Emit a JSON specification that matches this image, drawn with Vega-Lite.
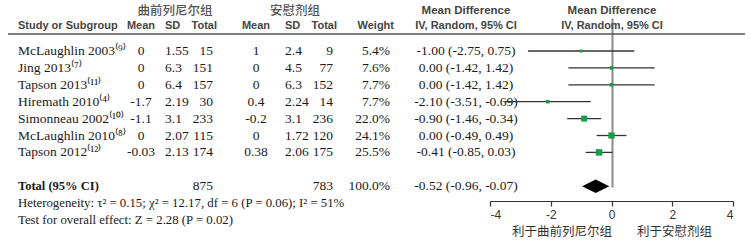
{
  "$schema": "https://vega.github.io/schema/vega-lite/v6.json",
  "width": 750,
  "height": 164,
  "autosize": {"type": "none"},
  "padding": {"top": 37, "bottom": 41, "left": 0, "right": 0},
  "config": {
    "view": {"stroke": null},
    "text": {"font": "Liberation Serif", "fontSize": 13.5, "color": "#1a1a1a", "baseline": "middle"}
  },
  "datasets": {
    "studies": [
      {"study": "McLaughlin 2003⁽⁹⁾", "m1": "0", "sd1": "1.55", "n1": 15, "m2": "1", "sd2": "2.4", "n2": 9, "w": 0.054, "ci": "-1.00 (-2.75, 0.75)", "md": -1.0, "lo": -2.75, "hi": 0.75},
      {"study": "Jing 2013⁽⁷⁾", "m1": "0", "sd1": "6.3", "n1": 151, "m2": "0", "sd2": "4.5", "n2": 77, "w": 0.076, "ci": "0.00 (-1.42, 1.42)", "md": 0.0, "lo": -1.42, "hi": 1.42},
      {"study": "Tapson 2013⁽¹¹⁾", "m1": "0", "sd1": "6.4", "n1": 157, "m2": "0", "sd2": "6.3", "n2": 152, "w": 0.077, "ci": "0.00 (-1.42, 1.42)", "md": 0.0, "lo": -1.42, "hi": 1.42},
      {"study": "Hiremath 2010⁽⁴⁾", "m1": "-1.7", "sd1": "2.19", "n1": 30, "m2": "0.4", "sd2": "2.24", "n2": 14, "w": 0.077, "ci": "-2.10 (-3.51, -0.69)", "md": -2.1, "lo": -3.51, "hi": -0.69},
      {"study": "Simonneau 2002⁽¹⁰⁾", "m1": "-1.1", "sd1": "3.1", "n1": 233, "m2": "-0.2", "sd2": "3.1", "n2": 236, "w": 0.22, "ci": "-0.90 (-1.46, -0.34)", "md": -0.9, "lo": -1.46, "hi": -0.34},
      {"study": "McLaughlin 2010⁽⁸⁾", "m1": "0", "sd1": "2.07", "n1": 115, "m2": "0", "sd2": "1.72", "n2": 120, "w": 0.241, "ci": "0.00 (-0.49, 0.49)", "md": 0.0, "lo": -0.49, "hi": 0.49},
      {"study": "Tapson 2012⁽¹²⁾", "m1": "-0.03", "sd1": "2.13", "n1": 174, "m2": "0.38", "sd2": "2.06", "n2": 175, "w": 0.255, "ci": "-0.41 (-0.85, 0.03)", "md": -0.41, "lo": -0.85, "hi": 0.03}
    ],
    "total": [
      {"study": "Total (95% CI)", "n1": 875, "n2": 783, "w": 1.0, "ci": "-0.52 (-0.96, -0.07)", "md": -0.52, "lo": -0.96, "hi": -0.07}
    ],
    "notes": [
      {"study": "Heterogeneity: τ² = 0.15; χ² = 12.17, df = 6 (P = 0.06); I² = 51%"},
      {"study": "Test for overall effect: Z = 2.28 (P = 0.02)"}
    ],
    "heads": [
      {"h": "Study or Subgroup", "c": 0, "r": "h2"},
      {"h": "Mean", "c": 1, "r": "h2"},
      {"h": "SD", "c": 2, "r": "h2"},
      {"h": "Total", "c": 3, "r": "h2"},
      {"h": "Mean", "c": 4, "r": "h2"},
      {"h": "SD", "c": 5, "r": "h2"},
      {"h": "Total", "c": 6, "r": "h2"},
      {"h": "Weight", "c": 7, "r": "h2"},
      {"h": "IV, Random, 95% CI", "c": 8, "r": "h2"},
      {"h": "IV, Random, 95% CI", "c": 9, "r": "h2"},
      {"h": "曲前列尼尔组", "c": 2, "r": "h1"},
      {"h": "安慰剂组", "c": 5, "r": "h1"},
      {"h": "Mean Difference", "c": 8, "r": "h1"},
      {"h": "Mean Difference", "c": 9, "r": "h1"}
    ]
  },
  "layer": [
    {
      "data": {"name": "heads"},
      "encoding": {
        "x": {"field": "c", "type": "quantitative", "axis": null,
              "scale": {"type": "linear", "domain": [-1, 0, 1, 2, 3, 4, 5, 6, 7, 8, 9, 10], "range": [8, 18, 141, 165, 213, 256, 285, 333, 390, 466, 612, 745], "nice": false, "zero": false}},
        "y": {"field": "r", "type": "nominal", "axis": null,
              "scale": {"type": "point", "domain": ["h1", "h2"], "range": [-26, -11], "padding": 0}}
      },
      "layer": [
        {
          "transform": [{"filter": {"field": "r", "equal": "h2"}}, {"filter": {"field": "c", "oneOf": [0, 2, 5]}}],
          "mark": {"type": "text", "align": "left", "font": "Liberation Sans", "fontWeight": "bold", "fontSize": 11, "color": "#444"},
          "encoding": {"text": {"field": "h"}}
        },
        {
          "transform": [{"filter": {"field": "r", "equal": "h2"}}, {"filter": {"field": "c", "oneOf": [1, 4, 8, 9]}}],
          "mark": {"type": "text", "align": "center", "font": "Liberation Sans", "fontWeight": "bold", "fontSize": 11, "color": "#444"},
          "encoding": {"text": {"field": "h"}}
        },
        {
          "transform": [{"filter": {"field": "r", "equal": "h2"}}, {"filter": {"field": "c", "oneOf": [3, 6, 7]}}],
          "mark": {"type": "text", "align": "right", "dx": 4, "font": "Liberation Sans", "fontWeight": "bold", "fontSize": 11, "color": "#444"},
          "encoding": {"text": {"field": "h"}}
        },
        {
          "transform": [{"filter": {"field": "r", "equal": "h1"}}, {"filter": {"field": "c", "oneOf": [2, 5]}}],
          "mark": {"type": "text", "align": "center", "dx": 10, "font": "Noto Sans CJK SC", "fontWeight": 500, "fontSize": 12.5, "color": "#555"},
          "encoding": {"text": {"field": "h"}}
        },
        {
          "transform": [{"filter": {"field": "r", "equal": "h1"}}, {"filter": {"field": "c", "oneOf": [8, 9]}}],
          "mark": {"type": "text", "align": "center", "font": "Liberation Sans", "fontWeight": "bold", "fontSize": 11.5, "color": "#444"},
          "encoding": {"text": {"field": "h"}}
        },
        {
          "transform": [{"filter": {"field": "c", "equal": 0}}, {"filter": {"field": "r", "equal": "h2"}}],
          "mark": {"type": "rule", "yOffset": 8, "color": "#555", "strokeWidth": 1.5},
          "encoding": {
            "x": {"datum": -1, "type": "quantitative"},
            "x2": {"datum": 10}
          }
        }
      ]
    },
    {
      "encoding": {
        "y": {"field": "study", "type": "nominal", "axis": null,
              "scale": {"type": "point", "range": [14, 183], "padding": 0,
                        "domain": ["McLaughlin 2003⁽⁹⁾", "Jing 2013⁽⁷⁾", "Tapson 2013⁽¹¹⁾", "Hiremath 2010⁽⁴⁾", "Simonneau 2002⁽¹⁰⁾", "McLaughlin 2010⁽⁸⁾", "Tapson 2012⁽¹²⁾", " ", "Total (95% CI)", "Heterogeneity: τ² = 0.15; χ² = 12.17, df = 6 (P = 0.06); I² = 51%", "Test for overall effect: Z = 2.28 (P = 0.02)"]}}
      },
      "layer": [
        {"data": {"name": "studies"}, "mark": {"type": "text", "align": "left"},
         "encoding": {"x": {"datum": 0, "type": "quantitative", "axis": null,
                            "scale": {"type": "linear", "domain": [-1, 0, 1, 2, 3, 4, 5, 6, 7, 8, 9, 10], "range": [8, 18, 141, 165, 213, 256, 285, 333, 390, 466, 612, 745], "nice": false, "zero": false}},
                      "text": {"field": "study"}}},
        {"data": {"name": "studies"}, "mark": {"type": "text", "align": "center"},
         "encoding": {"x": {"datum": 1, "type": "quantitative", "axis": null}, "text": {"field": "m1", "type": "nominal"}}},
        {"data": {"name": "studies"}, "mark": {"type": "text", "align": "left"},
         "encoding": {"x": {"datum": 2, "type": "quantitative", "axis": null}, "text": {"field": "sd1", "type": "nominal"}}},
        {"data": {"name": "studies"}, "mark": {"type": "text", "align": "right"},
         "encoding": {"x": {"datum": 3, "type": "quantitative", "axis": null}, "text": {"field": "n1", "type": "nominal"}}},
        {"data": {"name": "studies"}, "mark": {"type": "text", "align": "center"},
         "encoding": {"x": {"datum": 4, "type": "quantitative", "axis": null}, "text": {"field": "m2", "type": "nominal"}}},
        {"data": {"name": "studies"}, "mark": {"type": "text", "align": "left"},
         "encoding": {"x": {"datum": 5, "type": "quantitative", "axis": null}, "text": {"field": "sd2", "type": "nominal"}}},
        {"data": {"name": "studies"}, "mark": {"type": "text", "align": "right"},
         "encoding": {"x": {"datum": 6, "type": "quantitative", "axis": null}, "text": {"field": "n2", "type": "nominal"}}},
        {"data": {"name": "studies"}, "mark": {"type": "text", "align": "right"},
         "encoding": {"x": {"datum": 7, "type": "quantitative", "axis": null}, "text": {"field": "w", "type": "quantitative", "format": ".1%"}}},
        {"data": {"name": "studies"}, "mark": {"type": "text", "align": "center"},
         "encoding": {"x": {"datum": 8, "type": "quantitative", "axis": null}, "text": {"field": "ci", "type": "nominal"}}},
        {"data": {"name": "total"}, "mark": {"type": "text", "align": "left", "fontWeight": "bold", "fontSize": 12.5},
         "encoding": {"x": {"datum": 0, "type": "quantitative", "axis": null}, "text": {"field": "study"}}},
        {"data": {"name": "total"}, "mark": {"type": "text", "align": "right"},
         "encoding": {"x": {"datum": 3, "type": "quantitative", "axis": null}, "text": {"field": "n1", "type": "nominal"}}},
        {"data": {"name": "total"}, "mark": {"type": "text", "align": "right"},
         "encoding": {"x": {"datum": 6, "type": "quantitative", "axis": null}, "text": {"field": "n2", "type": "nominal"}}},
        {"data": {"name": "total"}, "mark": {"type": "text", "align": "right"},
         "encoding": {"x": {"datum": 7, "type": "quantitative", "axis": null}, "text": {"field": "w", "type": "quantitative", "format": ".1%"}}},
        {"data": {"name": "total"}, "mark": {"type": "text", "align": "center"},
         "encoding": {"x": {"datum": 8, "type": "quantitative", "axis": null}, "text": {"field": "ci", "type": "nominal"}}},
        {"data": {"name": "notes"}, "mark": {"type": "text", "align": "left", "fontSize": 12.8},
         "encoding": {"x": {"datum": 0, "type": "quantitative", "axis": null}, "text": {"field": "study"}}}
      ]
    },
    {
      "data": {"name": "studies"},
      "encoding": {
        "x": {"field": "lo", "type": "quantitative", "axis": null,
              "scale": {"type": "linear", "domain": [-4, 4], "range": [490, 733], "nice": false, "zero": false}},
        "y": {"field": "study", "type": "nominal", "axis": null,
              "scale": {"type": "point", "range": [14, 183], "padding": 0,
                        "domain": ["McLaughlin 2003⁽⁹⁾", "Jing 2013⁽⁷⁾", "Tapson 2013⁽¹¹⁾", "Hiremath 2010⁽⁴⁾", "Simonneau 2002⁽¹⁰⁾", "McLaughlin 2010⁽⁸⁾", "Tapson 2012⁽¹²⁾", " ", "Total (95% CI)", "Heterogeneity: τ² = 0.15; χ² = 12.17, df = 6 (P = 0.06); I² = 51%", "Test for overall effect: Z = 2.28 (P = 0.02)"]}}
      },
      "layer": [
        {
          "mark": {"type": "rule", "color": "#333", "strokeWidth": 1.3},
          "encoding": {"x2": {"field": "hi"}}
        },
        {
          "mark": {"type": "point", "shape": "square", "filled": true, "opacity": 1, "color": "#179c4a"},
          "encoding": {
            "x": {"field": "md", "type": "quantitative", "axis": null},
            "size": {"field": "w", "type": "quantitative", "legend": null, "scale": {"domain": [0, 0.255], "range": [0, 42]}}
          }
        }
      ]
    },
    {
      "data": {"name": "total"},
      "mark": {"type": "point", "shape": "M-1,0L0,-0.5L1,0L0,0.5Z", "filled": true, "opacity": 1, "color": "#000", "size": 740},
      "encoding": {
        "x": {"field": "md", "type": "quantitative",
              "scale": {"type": "linear", "domain": [-4, 4], "range": [490, 733], "nice": false, "zero": false},
              "axis": {"values": [-4, -2, 0, 2, 4], "labelExpr": "toString(datum.value)",
                       "grid": true, "gridWidth": 2,
                       "gridColor": {"condition": {"test": "datum.value === 0", "value": "#8a8a8a"}, "value": "transparent"},
                       "domainColor": "#333", "domainWidth": 1.2, "tickColor": "#333", "tickSize": 5, "tickWidth": 1.2,
                       "labelFont": "Liberation Sans", "labelFontSize": 12, "labelColor": "#333", "labelPadding": 3,
                       "title": "利于曲前列尼尔组　　利于安慰剂组　　", "titleFont": "Noto Sans CJK SC", "titleFontSize": 12.5,
                       "titleFontWeight": "normal", "titleColor": "#333", "titlePadding": 5}},
        "y": {"field": "study", "type": "nominal", "axis": null,
              "scale": {"type": "point", "range": [14, 183], "padding": 0,
                        "domain": ["McLaughlin 2003⁽⁹⁾", "Jing 2013⁽⁷⁾", "Tapson 2013⁽¹¹⁾", "Hiremath 2010⁽⁴⁾", "Simonneau 2002⁽¹⁰⁾", "McLaughlin 2010⁽⁸⁾", "Tapson 2012⁽¹²⁾", " ", "Total (95% CI)", "Heterogeneity: τ² = 0.15; χ² = 12.17, df = 6 (P = 0.06); I² = 51%", "Test for overall effect: Z = 2.28 (P = 0.02)"]}}
      }
    }
  ],
  "resolve": {"scale": {"x": "independent", "y": "independent"}}
}
